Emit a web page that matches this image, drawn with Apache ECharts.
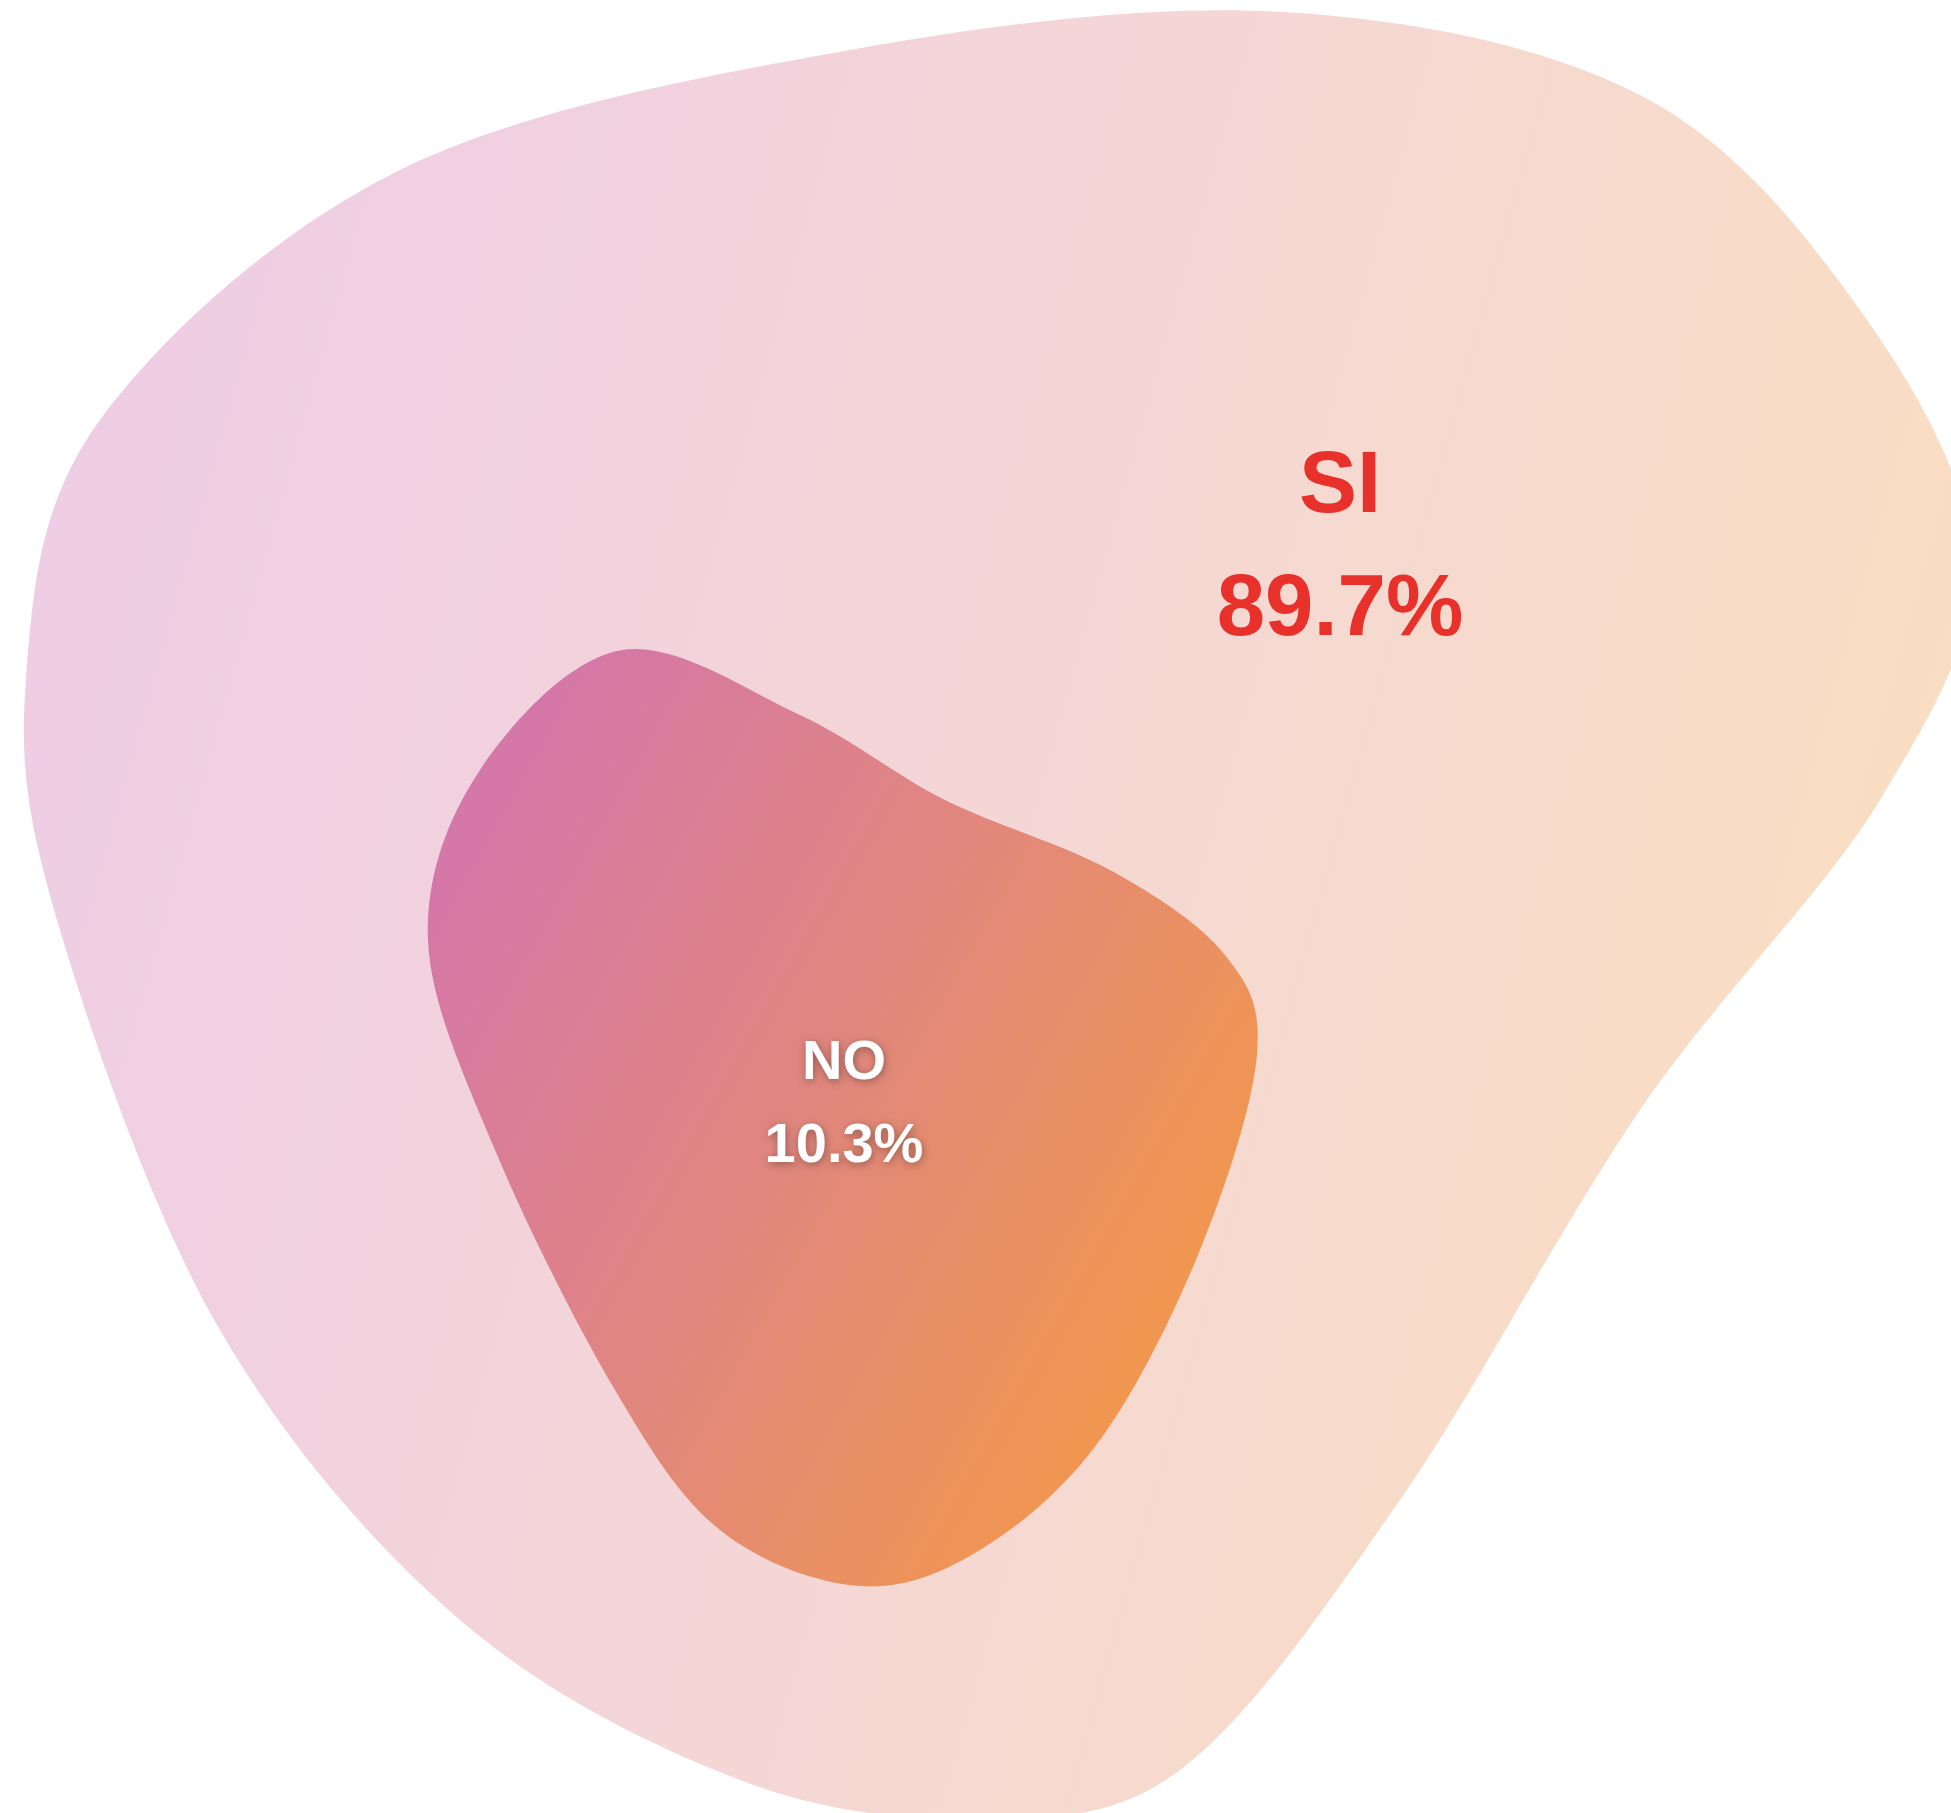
<!DOCTYPE html>
<html>
<head>
<meta charset="utf-8">
<script src="https://cdn.jsdelivr.net/npm/echarts@6/dist/echarts.min.js"></script>
<style>
  html, body { margin: 0; padding: 0; background: #fff; }
  #chart { width: 1951px; height: 1813px; }
</style>
</head>
<body>
<div id="chart"></div>
<script>
// 两个区域的占比
var categories = ['SI', 'NO'];
var values = [89.7, 10.3];

(function () {
    var myChart = echarts.init(document.getElementById('chart'));

    // 轮廓模板 (画布坐标), 只是外形
    var outlines = [
        [[1282, 12], [1640, 95], [1860, 310], [1972, 560], [1880, 800], [1640, 1110],
         [1400, 1500], [1180, 1770], [975, 1818], [740, 1780], [460, 1620], [220, 1330],
         [60, 930], [26, 680], [100, 420], [400, 170], [850, 50]],
        [[622, 650], [800, 715], [945, 800], [1110, 870], [1225, 955], [1257, 1055],
         [1200, 1250], [1100, 1440], [980, 1550], [859, 1586], [720, 1530], [615, 1390],
         [495, 1150], [428, 940], [480, 770]]
    ];
    var labelPos = [[1340, 488, 611], [844, 1064, 1147]];
    var fills = [
        new echarts.graphic.LinearGradient(0, 0.35, 1, 0.65, [
            { offset: 0, color: '#eecde5' },
            { offset: 0.45, color: '#f4d6d7' },
            { offset: 1, color: '#fadfbf' }
        ]),
        new echarts.graphic.LinearGradient(0, 0.25, 1, 0.75, [
            { offset: 0, color: '#d477a9' },
            { offset: 0.5, color: '#e2887a' },
            { offset: 1, color: '#f49a45' }
        ])
    ];
    var textStyles = [
        { fill: '#e8312a', fontSize: 87, shadow: null },
        { fill: '#ffffff', fontSize: 56, shadow: 'rgba(0,0,0,0.35)' }
    ];

    // 闭合 Catmull-Rom 曲线 -> SVG path
    function blobPath(pts) {
        var n = pts.length;
        var d = 'M' + pts[0][0] + ',' + pts[0][1];
        for (var i = 0; i < n; i++) {
            var p0 = pts[(i - 1 + n) % n], p1 = pts[i], p2 = pts[(i + 1) % n], p3 = pts[(i + 2) % n];
            var c1x = p1[0] + (p2[0] - p0[0]) / 6, c1y = p1[1] + (p2[1] - p0[1]) / 6;
            var c2x = p2[0] - (p3[0] - p1[0]) / 6, c2y = p2[1] - (p3[1] - p1[1]) / 6;
            d += 'C' + c1x + ',' + c1y + ' ' + c2x + ',' + c2y + ' ' + p2[0] + ',' + p2[1];
        }
        return d + 'Z';
    }

    option = {
        backgroundColor: '#ffffff',
        animation: false,
        grid: { left: 0, right: 0, top: 0, bottom: 0 },
        xAxis: { type: 'value', min: 0, max: 1951, show: false },
        yAxis: { type: 'value', min: 0, max: 1813, inverse: true, show: false },
        series: [{
            type: 'custom',
            clip: false,
            data: categories.map(function (c, i) {
                return { name: c, value: [values[i]] };
            }),
            renderItem: function (params, api) {
                var i = params.dataIndex;
                var pts = outlines[i].map(function (p) {
                    return api.coord([p[0], p[1]]);
                });
                var lp = labelPos[i];
                var a = api.coord([lp[0], lp[1]]);
                var b = api.coord([lp[0], lp[2]]);
                var ts = textStyles[i];
                function txt(str, pos) {
                    return {
                        type: 'text',
                        style: {
                            text: str,
                            x: pos[0],
                            y: pos[1],
                            align: 'center',
                            verticalAlign: 'middle',
                            fill: ts.fill,
                            font: 'bold ' + ts.fontSize + 'px "Liberation Sans", Arial, sans-serif',
                            textShadowColor: ts.shadow || 'transparent',
                            textShadowBlur: ts.shadow ? 8 : 0,
                            textShadowOffsetX: ts.shadow ? 1 : 0,
                            textShadowOffsetY: ts.shadow ? 2 : 0
                        }
                    };
                }
                return {
                    type: 'group',
                    children: [{
                        type: 'path',
                        shape: { pathData: blobPath(pts) },
                        style: { fill: fills[i] }
                    },
                    txt(categories[i], a),
                    txt(values[i].toFixed(1) + '%', b)]
                };
            }
        }]
    };
    myChart.setOption(option);
    window.addEventListener('resize', function () {
        myChart.resize();
    });
})();
</script>
</body>
</html>
